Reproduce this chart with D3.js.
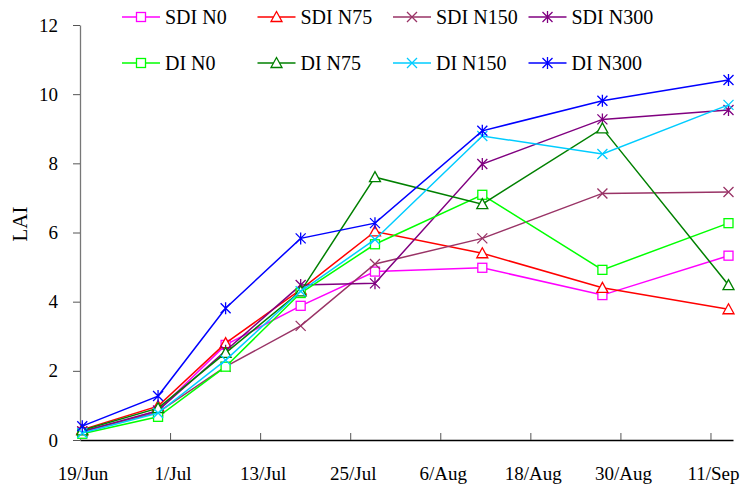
<!DOCTYPE html>
<html>
<head>
<meta charset="utf-8">
<script src="https://cdn.jsdelivr.net/npm/d3@7"></script>
<style>
  body { margin: 0; background: #fff; }
  svg { font-family: "Liberation Serif", "Times New Roman", serif; }
</style>
</head>
<body>
<div id="chart"></div>
<script>
// sampling dates, as days after 19/Jun
const sampleDays = [0.3, 10.4, 19.4, 29.4, 39.3, 53.6, 69.6, 86.4];

// x tick positions (days after 19/Jun) and their labels
const tickDays = [0, 12, 24, 36, 48, 60, 72, 84];
const tickLabels = ["19/Jun", "1/Jul", "13/Jul", "25/Jul", "6/Aug", "18/Aug", "30/Aug", "11/Sep"];
const yTicks = [0, 2, 4, 6, 8, 10, 12];

const seriesNames = ["SDI N0", "SDI N75", "SDI N150", "SDI N300", "DI N0", "DI N75", "DI N150", "DI N300"];
const seriesColors = ["#ff00ff", "#ff0000", "#993366", "#800080", "#00ff00", "#008000", "#00ccff", "#0000ff"];
const seriesMarkers = ["square", "triangle", "cross", "star", "square", "triangle", "cross", "star"];

const sdiN0   = [0.22, 0.85, 2.75, 3.88, 4.87, 4.98, 4.19, 5.33];
const sdiN75  = [0.30, 0.98, 2.80, 4.35, 6.03, 5.40, 4.40, 3.78];
const sdiN150 = [0.25, 0.80, 2.12, 3.30, 5.09, 5.83, 7.13, 7.17];
const sdiN300 = [0.25, 0.85, 2.58, 4.48, 4.53, 7.98, 9.27, 9.54];
const diN0    = [0.18, 0.67, 2.12, 4.25, 5.66, 7.09, 4.92, 6.27];
const diN75   = [0.28, 0.92, 2.52, 4.30, 7.60, 6.82, 9.01, 4.48];
const diN150  = [0.20, 0.78, 2.31, 4.30, 5.80, 8.79, 8.27, 9.69];
const diN300  = [0.40, 1.27, 3.81, 5.83, 6.27, 8.94, 9.81, 10.41];

const seriesValues = [sdiN0, sdiN75, sdiN150, sdiN300, diN0, diN75, diN150, diN300];

const W = 745, H = 489;
const margin = {left: 80, right: 12, top: 25, bottom: 49};

const svg = d3.select("#chart").append("svg").attr("width", W).attr("height", H);

const x = d3.scaleLinear().domain([0, 87]).range([margin.left, W - margin.right]);
const y = d3.scaleLinear().domain([0, 12]).range([H - margin.bottom, margin.top]);

// x axis (ticks pointing up into the plot)
const xAxis = svg.append("g").attr("transform", `translate(0,${y(0)})`)
  .call(d3.axisBottom(x).tickValues(tickDays.slice(1)).tickSizeInner(-7).tickSizeOuter(0).tickFormat(""));
xAxis.select(".domain").attr("stroke", "#000").attr("stroke-width", 1.3);
xAxis.selectAll(".tick line").attr("stroke", "#555");

svg.append("g").selectAll("text").data(tickDays).enter().append("text")
  .attr("x", (d) => x(d) + 3)
  .attr("y", y(0) + 40)
  .attr("text-anchor", "middle")
  .attr("font-size", 19)
  .text((d, i) => tickLabels[i]);

// y axis
const yAxis = svg.append("g").attr("transform", `translate(${x(0)},0)`)
  .call(d3.axisLeft(y).tickValues(yTicks).tickSize(7).tickPadding(15).tickSizeOuter(0));
yAxis.select(".domain").attr("stroke", "#777").attr("stroke-width", 1.3);
yAxis.selectAll(".tick line").attr("stroke", "#555");
yAxis.selectAll(".tick text").attr("font-size", 19).attr("font-family", "Liberation Serif").attr("fill", "#000");

svg.append("text")
  .attr("transform", `translate(27,224) rotate(-90)`)
  .attr("text-anchor", "middle")
  .attr("font-size", 21)
  .text("LAI");

function drawMarker(g, type, color) {
  if (type === "square") {
    g.append("rect").attr("x", -4.5).attr("y", -4.5).attr("width", 9).attr("height", 9)
      .attr("fill", "#fff").attr("stroke", color).attr("stroke-width", 1.3);
  } else if (type === "triangle") {
    g.append("path").attr("d", "M0,-5.5L5.5,4.5L-5.5,4.5Z")
      .attr("fill", "#fff").attr("stroke", color).attr("stroke-width", 1.3);
  } else if (type === "cross") {
    g.append("path").attr("d", "M-5,-5L5,5M-5,5L5,-5")
      .attr("fill", "none").attr("stroke", color).attr("stroke-width", 1.3);
  } else {
    g.append("path").attr("d", "M-5,-5L5,5M-5,5L5,-5M0,-6L0,6")
      .attr("fill", "none").attr("stroke", color).attr("stroke-width", 1.3);
  }
}

const line = d3.line().x((d) => x(d[0])).y((d) => y(d[1]));

seriesValues.forEach((vals, s) => {
  const pts = vals.map((v, i) => [sampleDays[i], v]);
  svg.append("path").datum(pts)
    .attr("d", line)
    .attr("fill", "none")
    .attr("stroke", seriesColors[s])
    .attr("stroke-width", 1.5);
  pts.forEach((p) => {
    const g = svg.append("g").attr("transform", `translate(${x(p[0])},${y(p[1])})`);
    drawMarker(g, seriesMarkers[s], seriesColors[s]);
  });
});

// legend: 2 rows x 4 columns
seriesNames.forEach((name, s) => {
  const col = s % 4, row = Math.floor(s / 4);
  const lx = 122 + col * 135.5, ly = 17 + row * 46;
  const g = svg.append("g").attr("transform", `translate(${lx},${ly})`);
  g.append("line").attr("x1", 0).attr("x2", 38).attr("y1", 0).attr("y2", 0)
    .attr("stroke", seriesColors[s]).attr("stroke-width", 1.5);
  const m = g.append("g").attr("transform", "translate(19,0)");
  drawMarker(m, seriesMarkers[s], seriesColors[s]);
  g.append("text").attr("x", 43).attr("y", 7).attr("font-size", 20).text(name);
});
</script>
</body>
</html>
